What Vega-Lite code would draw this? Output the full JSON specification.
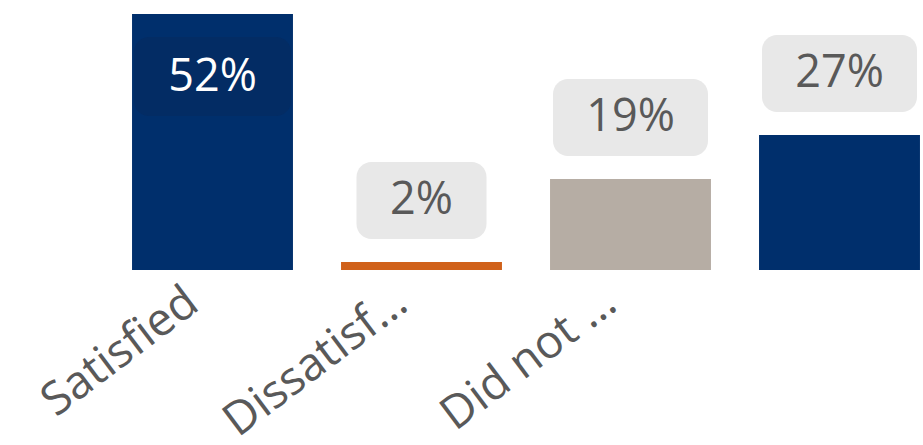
{
  "$schema": "https://vega.github.io/schema/vega-lite/v6.json",
  "autosize": "none",
  "width": 815,
  "height": 256,
  "padding": {"left": 108, "top": 14, "right": 0, "bottom": 175},
  "background": "white",
  "config": {"view": {"stroke": null}, "font": "Open Sans"},
  "data": {"values": [
    {"category": "Satisfied", "value": 0.52, "label": "52%"},
    {"category": "Dissatisfied", "value": 0.016, "label": "2%"},
    {"category": "Did not respond", "value": 0.185, "label": "19%"},
    {"category": "Neutral", "value": 0.274, "label": "27%"}
  ]},
  "encoding": {
    "x": {
      "field": "category", "type": "nominal", "sort": null,
      "scale": {"range": [0, 836], "paddingInner": 0.23, "paddingOuter": 0.115},
      "axis": {
        "title": null, "domain": false, "ticks": false,
        "labelAngle": -37, "labelFontSize": 46, "labelColor": "#595959",
        "labelPadding": 9, "labelOffset": -33, "labelLimit": 500, "labelFont": "Open Sans",
        "labelExpr": "datum.value == 'Satisfied' ? 'Satisfied' : datum.value == 'Dissatisfied' ? 'Dissatisf…' : datum.value == 'Did not respond' ? 'Did not …' : ''"
      }
    },
    "y": {
      "field": "value", "type": "quantitative",
      "scale": {"domain": [0, 0.52], "nice": false, "zero": true},
      "axis": null
    }
  },
  "layer": [
    {
      "mark": {"type": "bar"},
      "encoding": {
        "color": {
          "field": "category", "type": "nominal", "legend": null,
          "scale": {
            "domain": ["Satisfied", "Dissatisfied", "Did not respond", "Neutral"],
            "range": ["#002F6C", "#D0611A", "#B6ADA4", "#002F6C"]
          }
        }
      }
    },
    {
      "transform": [{"filter": "datum.value < 0.1"}],
      "mark": {"type": "bar", "width": 130, "cornerRadius": 15, "color": "#E8E8E8", "yOffset": -100, "y2Offset": -23},
      "encoding": {"y2": {"field": "value"}}
    },
    {
      "transform": [{"filter": "datum.value >= 0.1 && datum.value < 0.5"}],
      "mark": {"type": "bar", "width": 155, "cornerRadius": 15, "color": "#E8E8E8", "yOffset": -100, "y2Offset": -23},
      "encoding": {"y2": {"field": "value"}}
    },
    {
      "transform": [{"filter": "datum.value >= 0.5"}],
      "mark": {"type": "bar", "width": 157, "cornerRadius": 15, "color": "#032C64", "yOffset": 23, "y2Offset": 102},
      "encoding": {"y2": {"field": "value"}}
    },
    {
      "transform": [{"filter": "datum.value < 0.5"}],
      "mark": {"type": "text", "fontSize": 45, "color": "#595959", "baseline": "middle", "yOffset": -62, "font": "Open Sans"},
      "encoding": {"text": {"field": "label"}}
    },
    {
      "transform": [{"filter": "datum.value >= 0.5"}],
      "mark": {"type": "text", "fontSize": 45, "color": "white", "baseline": "middle", "yOffset": 63, "font": "Open Sans"},
      "encoding": {"text": {"field": "label"}}
    }
  ]
}
